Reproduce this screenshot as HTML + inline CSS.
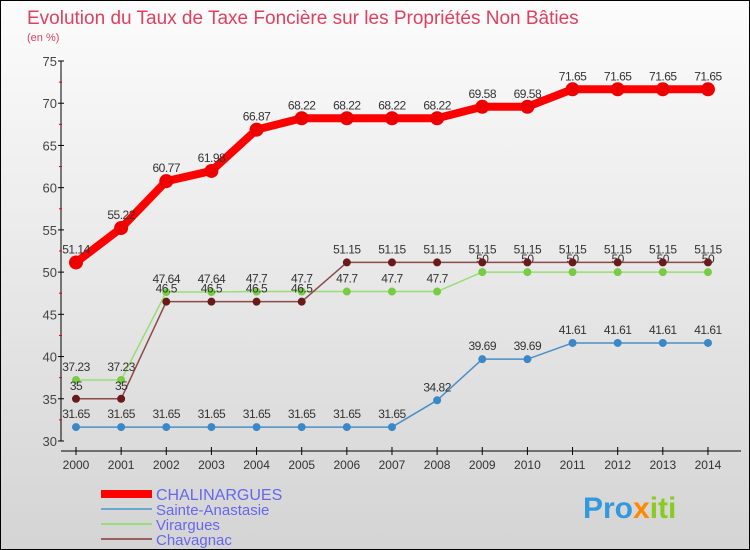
<!DOCTYPE html>
<html><head><meta charset="utf-8"><style>
body{margin:0}
#c{width:750px;height:550px;position:relative;box-sizing:border-box;border:1px solid #000;background:linear-gradient(#fcfcfc,#d4d4d4);font-family:"Liberation Sans",sans-serif;overflow:hidden}
</style></head><body>
<div id="c">
<svg id="s" width="750" height="550" style="position:absolute;left:0;top:0">
<text x="26" y="23" font-size="19" fill="#e04060">Evolution du Taux de Taxe Foncière sur les Propriétés Non Bâties</text>
<text x="26" y="40" font-size="11" fill="#e04060">(en %)</text>
<g id="g"></g>
<text x="582" y="517" font-size="30" font-weight="bold" fill="#3399dd">Pro<tspan fill="#ff8800">x</tspan><tspan fill="#88cc22">iti</tspan></text>
</svg>
</div>
<script>
const years=["2000","2001","2002","2003","2004","2005","2006","2007","2008","2009","2010","2011","2012","2013","2014"];
const yTicks=[30,35,40,45,50,55,60,65,70,75];
const chal=[51.14,55.22,60.77,61.98,66.87,68.22,68.22,68.22,68.22,69.58,69.58,71.65,71.65,71.65,71.65];
const sainte=[31.65,31.65,31.65,31.65,31.65,31.65,31.65,31.65,34.82,39.69,39.69,41.61,41.61,41.61,41.61];
const virg=[37.23,37.23,47.64,47.64,47.7,47.7,47.7,47.7,47.7,50,50,50,50,50,50];
const chav=[35,35,46.5,46.5,46.5,46.5,51.15,51.15,51.15,51.15,51.15,51.15,51.15,51.15,51.15];
const names=["CHALINARGUES","Sainte-Anastasie","Virargues","Chavagnac"];
const X=i=>75+i*45.14, Y=v=>440-(v-30)*380/45;
const g=document.getElementById('g'),NS="http://www.w3.org/2000/svg";
function el(t,a,n){const e=document.createElementNS(NS,t);for(const k in a)e.setAttribute(k,a[k]);


g.appendChild(e);return e;}
el('line',{x1:60,y1:60,x2:60,y2:440,stroke:'#000'},'y-axis');
el('line',{x1:60,y1:450,x2:740,y2:450,stroke:'#000'},'x-axis');
yTicks.forEach(v=>{el('line',{x1:57,y1:Y(v),x2:63,y2:Y(v),stroke:'#000'},'y-tick');
const t=el('text',{x:56,y:Y(v)+5,'font-size':13,fill:'#444','text-anchor':'end'},'y-tick-label');t.textContent=v;
if(v<75)el('line',{x1:58,y1:Y(v+2.5),x2:61,y2:Y(v+2.5),stroke:'#e00'},'y-minor-tick');});
years.forEach((y,i)=>{el('line',{x1:X(i),y1:446,x2:X(i),y2:454,stroke:'#000'},'x-tick');
const t=el('text',{x:X(i),y:468,'font-size':12,fill:'#333','text-anchor':'middle'},'x-tick-label');t.textContent=y;});
function series(d,col,w,r,fill,name,lbl){
el('polyline',{points:d.map((v,i)=>X(i)+','+Y(v)).join(' '),fill:'none',stroke:col,'stroke-width':w,'stroke-linejoin':'round'},name+'-line');
d.forEach((v,i)=>{el('circle',{cx:X(i),cy:Y(v),r:r,fill:fill},name+'-point');
if(lbl){const t=el('text',{x:X(i),y:Y(v)-9,'font-size':12,fill:'#333','text-anchor':'middle','letter-spacing':'-0.5'},name+'-value-label');t.textContent=v;}});}
series(sainte,'#4a90c8',1.5,4,'#3a88c8','sainte-anastasie',true);
series(virg,'#99dd77',1.5,4,'#77cc44','virargues',true);
series(chav,'#8b4a4a',1.5,4,'#6a1a1a','chavagnac',true);
series(chal,'#ff0000',8,7,'#ee0000','chalinargues',true);
const cols=['#ff0000','#6aa8d0','#99dd77','#9a6060'],ws=[8,2,2,2];
names.forEach((n,k)=>{const y=493+k*15;
el('line',{x1:100,y1:y,x2:151,y2:y,stroke:cols[k],'stroke-width':ws[k]},'legend-swatch');
const t=el('text',{x:155,y:y+6,'font-size':k==0?16:15,fill:'#6666ee'},'legend-entry');t.textContent=n;});
</script>
</body></html>
